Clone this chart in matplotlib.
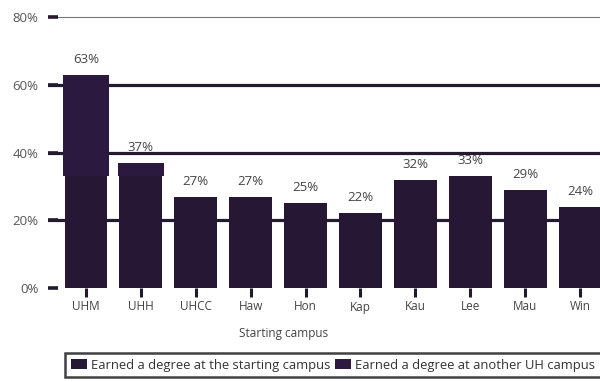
import matplotlib
matplotlib.use("Agg")
import matplotlib.pyplot as plt
import numpy as np

plt.rcParams['font.family'] = ['Open Sans', 'DejaVu Sans']

campuses = ["UHM", "UHH", "UHCC", "Haw", "Hon", "Kap", "Kau", "Lee", "Mau", "Win"]
total_pct = [63, 37, 27, 27, 25, 22, 32, 33, 29, 24]
starting_pct = [33, 33, 27, 27, 25, 22, 32, 33, 29, 24]
another_pct = [t - s for t, s in zip(total_pct, starting_pct)]
y_ticks = [0, 20, 40, 60, 80]
y_tick_labels = ["0%", "20%", "40%", "60%", "80%"]

c_start = "#261735"
c_other = "#2c1940"
ink = "#241a30"
gray = "#555555"

W, H = 600, 382
fig = plt.figure(figsize=(W / 100, H / 100), dpi=100)

# axes box in pixels: left 48, right 600, y=0 at 288px, 1% = 3.3875px
px_per_pct = (288 - 17) / 80
ymax = 81
top_px = 288 - ymax * px_per_pct
ax = fig.add_axes([48 / W, 1 - 288 / H, (600 - 48) / W, (288 - top_px) / H])

x = np.arange(len(campuses))
ax.bar(x, starting_pct, width=0.78, color=c_start, zorder=3,
       label="Earned a degree at the starting campus")
ax.bar(x, another_pct, bottom=starting_pct, width=0.83, color=c_other, zorder=3,
       label="Earned a degree at another UH campus")

for xi, t in zip(x, total_pct):
    ax.annotate(f"{t}%", (xi, t), xytext=(0, 6.5), textcoords="offset points",
                ha="center", va="bottom", fontsize=9.5, color="#444444", zorder=4)

# horizontal reference lines
for yv in y_ticks[1:-1]:
    ax.axhline(yv, color=ink, lw=2.3, zorder=1)
ax.axhline(80, color="#777777", lw=0.8, zorder=1)

ax.set_xlim(-0.692, 9.364)
ax.set_ylim(0, ymax)
ax.set_yticks(y_ticks)
ax.set_yticklabels(y_tick_labels)
ax.tick_params(axis="y", direction="in", length=7, width=2.6, color=ink,
               labelsize=9.5, labelcolor=gray, pad=7)
ax.set_xticks(x)
ax.set_xticklabels(campuses)
ax.tick_params(axis="x", direction="out", length=6.5, width=2.2, color=ink,
               labelsize=8.5, labelcolor="#444444", pad=2.5)
for s in ax.spines.values():
    s.set_visible(False)

fig.text(284 / W, 1 - 333 / H, "Starting campus", fontsize=8.5, color="#444444",
         ha="center", va="center")

leg = fig.legend(loc="center", bbox_to_anchor=(333 / W, 1 - 365 / H), ncol=2,
                 fontsize=9.4, frameon=True, fancybox=False, handlelength=1.2,
                 handleheight=0.9, handletextpad=0.3, columnspacing=0.4,
                 borderpad=0.45, borderaxespad=0, labelcolor="#333333")
leg.get_frame().set_edgecolor("#111111")
leg.get_frame().set_linewidth(1.8)

fig.savefig("out.png", dpi=100)
